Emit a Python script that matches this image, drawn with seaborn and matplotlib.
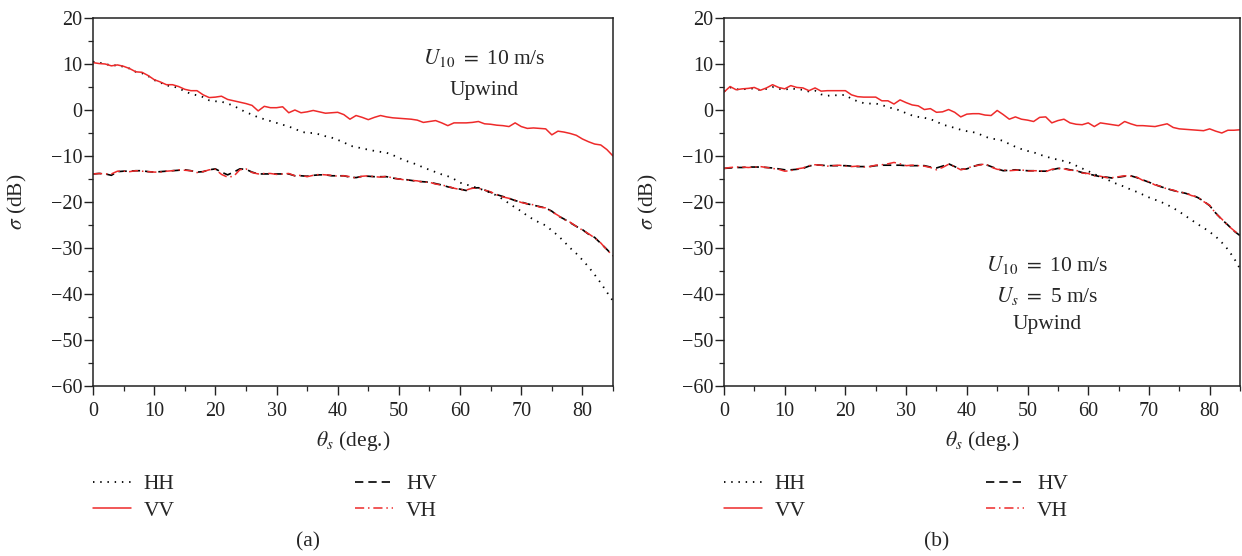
import numpy as np
import pandas as pd
import matplotlib
matplotlib.use("Agg")
import matplotlib.pyplot as plt
from matplotlib.ticker import MultipleLocator
import seaborn as sns

# ---------------- data ----------------
theta = list(range(0, 86))

a_vv = [10.3, 10.1, 10.0, 9.6, 9.8, 9.5, 9.0, 8.3, 8.2, 7.5,
        6.6, 6.1, 5.5, 5.5, 5.1, 4.5, 4.2, 4.2, 3.3, 2.7,
        2.8, 3.0, 2.3, 2.0, 1.7, 1.4, 1.0, -0.2, 0.8, 0.5,
        0.5, 0.7, -0.6, 0.0, -0.6, -0.4, -0.1, -0.4, -0.7, -0.6,
        -0.5, -1.0, -2.0, -1.2, -1.6, -2.1, -1.6, -1.2, -1.5, -1.7,
        -1.8, -1.9, -2.0, -2.2, -2.7, -2.5, -2.3, -2.8, -3.4, -2.8,
        -2.8, -2.8, -2.7, -2.5, -3.0, -3.1, -3.3, -3.4, -3.6, -2.8,
        -3.6, -4.0, -3.9, -4.0, -4.1, -5.4, -4.6, -4.8, -5.1, -5.5,
        -6.3, -6.9, -7.4, -7.6, -8.6, -10.0]
a_hh = [10.5, 10.3, 10.0, 9.7, 9.7, 9.4, 9.0, 8.3, 8.0, 7.4,
        6.5, 6.0, 5.3, 5.2, 4.7, 4.1, 3.5, 3.2, 2.8, 2.1,
        1.9, 1.8, 1.4, 0.9, 0.2, -0.5, -1.0, -1.6, -2.0, -2.4,
        -2.8, -3.2, -3.6, -4.1, -4.7, -5.0, -5.0, -5.3, -5.7, -6.0,
        -6.5, -7.0, -7.8, -8.0, -8.4, -8.6, -8.9, -9.1, -9.3, -9.8,
        -10.4, -11.0, -11.4, -11.9, -12.5, -13.0, -13.5, -14.0, -14.4, -15.0,
        -15.8, -16.2, -16.6, -17.0, -17.5, -18.0, -18.6, -19.4, -20.3, -21.2,
        -22.0, -23.0, -23.8, -24.5, -25.1, -26.2, -27.3, -28.6, -30.0, -31.2,
        -32.6, -34.1, -35.8, -37.6, -39.6, -41.5]
a_hv = [-13.9, -13.8, -13.9, -14.2, -13.4, -13.3, -13.3, -13.2, -13.2, -13.4,
        -13.5, -13.4, -13.3, -13.2, -13.1, -13.0, -13.2, -13.5, -13.4, -13.0,
        -12.8, -13.5, -14.1, -13.5, -12.8, -12.9, -13.5, -13.9, -13.9, -13.9,
        -13.9, -13.9, -13.9, -14.3, -14.3, -14.4, -14.2, -14.1, -14.1, -14.3,
        -14.3, -14.3, -14.6, -14.7, -14.4, -14.4, -14.5, -14.5, -14.5, -14.8,
        -15.0, -15.1, -15.3, -15.5, -15.6, -15.7, -16.0, -16.3, -16.7, -17.0,
        -17.2, -17.5, -17.0, -16.9, -17.4, -17.9, -18.4, -18.8, -19.2, -19.7,
        -20.0, -20.4, -20.7, -21.0, -21.3, -22.0, -23.0, -23.7, -24.5, -25.3,
        -26.0, -27.0, -27.7, -29.0, -30.3, -31.7]
a_vh = [-13.9, -13.8, -13.9, -13.9, -13.3, -13.3, -13.4, -13.2, -13.3, -13.4,
        -13.5, -13.5, -13.3, -13.2, -13.0, -13.1, -13.2, -13.6, -13.4, -13.0,
        -12.9, -14.0, -14.6, -14.4, -13.0, -12.8, -13.6, -13.9, -13.8, -13.8,
        -14.0, -13.9, -13.8, -14.3, -14.2, -14.5, -14.2, -14.0, -14.1, -14.2,
        -14.4, -14.3, -14.5, -14.8, -14.4, -14.3, -14.5, -14.6, -14.4, -14.8,
        -15.0, -15.2, -15.3, -15.4, -15.7, -15.7, -16.1, -16.3, -16.6, -17.0,
        -17.3, -17.4, -17.0, -17.0, -17.4, -17.8, -18.4, -18.9, -19.2, -19.6,
        -20.1, -20.4, -20.6, -21.1, -21.3, -22.1, -22.9, -23.8, -24.4, -25.3,
        -26.1, -26.9, -27.8, -28.9, -30.4, -31.7]

b_vv = [3.9, 5.1, 4.4, 4.6, 4.7, 4.9, 4.3, 4.8, 5.5, 4.9,
        4.6, 5.3, 4.9, 4.8, 4.2, 4.8, 4.1, 4.2, 4.2, 4.2,
        4.2, 3.3, 2.9, 2.8, 2.8, 2.8, 2.0, 2.0, 1.3, 2.2,
        1.6, 1.1, 0.9, 0.1, 0.3, -0.5, -0.4, 0.1, -0.5, -1.5,
        -0.9, -0.8, -0.8, -1.1, -1.2, -0.1, -1.0, -2.0, -1.5, -2.0,
        -2.2, -2.5, -1.6, -1.5, -2.8, -2.3, -2.0, -2.8, -3.1, -3.2,
        -2.8, -3.6, -2.8, -3.0, -3.2, -3.4, -2.5, -3.0, -3.4, -3.4,
        -3.5, -3.6, -3.3, -3.0, -3.8, -4.1, -4.2, -4.3, -4.4, -4.5,
        -4.1, -4.6, -5.0, -4.4, -4.4, -4.3]
b_hh = [4.0, 4.9, 4.5, 4.5, 4.6, 4.7, 4.3, 4.6, 5.0, 4.6,
        4.4, 4.7, 4.5, 4.4, 4.0, 4.2, 3.4, 3.1, 3.2, 3.2,
        3.3, 2.4, 1.9, 1.5, 1.4, 1.4, 1.1, 0.6, 0.3, -0.1,
        -0.7, -1.2, -1.5, -1.7, -2.0, -2.5, -3.2, -3.5, -3.9, -4.3,
        -4.6, -4.8, -5.2, -5.8, -6.2, -6.4, -6.7, -7.4, -8.0, -8.5,
        -8.9, -9.2, -9.7, -10.1, -10.5, -10.8, -11.1, -11.5, -12.1, -12.7,
        -13.3, -13.9, -14.6, -15.0, -15.7, -16.2, -16.7, -17.3, -17.8, -18.4,
        -19.0, -19.5, -20.0, -20.6, -21.3, -22.1, -23.0, -23.9, -24.8, -25.6,
        -26.5, -27.5, -28.8, -30.3, -32.2, -34.5]
b_hv = [-12.7, -12.6, -12.5, -12.5, -12.4, -12.4, -12.4, -12.5, -12.6, -12.8,
        -13.0, -13.0, -12.9, -12.7, -12.2, -11.9, -12.0, -12.1, -12.1, -12.1,
        -12.1, -12.2, -12.3, -12.3, -12.3, -12.1, -12.0, -12.0, -12.0, -12.0,
        -12.1, -12.1, -12.1, -12.1, -12.4, -12.6, -12.2, -11.7, -12.3, -12.9,
        -12.8, -12.3, -11.9, -11.8, -12.3, -12.8, -13.2, -13.1, -13.0, -13.1,
        -13.2, -13.2, -13.3, -13.3, -13.0, -12.7, -12.7, -13.0, -13.2, -13.6,
        -13.9, -14.2, -14.5, -14.6, -14.8, -14.6, -14.4, -14.3, -14.7, -15.2,
        -15.7, -16.2, -16.7, -17.1, -17.5, -17.8, -18.1, -18.5, -19.0, -19.8,
        -20.8, -22.4, -23.8, -25.0, -26.3, -27.3]
b_vh = [-12.7, -12.5, -12.4, -12.4, -12.5, -12.4, -12.3, -12.5, -12.7, -12.9,
        -13.3, -13.2, -12.8, -12.6, -12.1, -11.9, -12.0, -12.2, -12.1, -12.0,
        -12.2, -12.3, -12.2, -12.4, -12.3, -12.0, -11.9, -11.7, -11.4, -11.7,
        -12.1, -12.0, -12.1, -12.2, -12.5, -13.0, -12.5, -11.8, -12.3, -13.0,
        -12.7, -12.2, -12.0, -11.7, -12.4, -12.9, -13.0, -13.2, -13.1, -13.0,
        -13.3, -13.2, -13.2, -13.4, -12.9, -12.7, -12.8, -13.1, -13.1, -13.7,
        -13.8, -14.3, -14.4, -14.7, -14.7, -14.5, -14.3, -14.4, -14.6, -15.3,
        -15.6, -16.3, -16.6, -17.2, -17.4, -17.9, -18.0, -18.6, -18.9, -19.9,
        -20.7, -22.5, -23.7, -25.1, -26.2, -27.3]

series_labels = ["HH", "VV", "HV", "VH"]
panel_tags = ["(a)", "(b)"]

# ---------------- style ----------------
sns.set_style("ticks")
plt.rcParams["font.family"] = ["Liberation Serif", "DejaVu Serif"]
plt.rcParams["mathtext.fontset"] = "stix"
plt.rcParams["font.size"] = 13

RED = "#ee2a2a"
styles = {
    "HH": dict(color="black", linestyle=(0, (0.8, 3.2)), linewidth=1.3),
    "VV": dict(color=RED, linestyle="-", linewidth=1.1),
    "HV": dict(color="black", linestyle=(0, (5, 3)), linewidth=1.2),
    "VH": dict(color=RED, linestyle=(0, (6, 2.5, 1, 2.5)), linewidth=1.1),
}

fig = plt.figure(figsize=(12.42, 5.56), dpi=100)
W, H = 1242.0, 556.0
ax_a = fig.add_axes([93 / W, 1 - 386 / H, (613 - 93) / W, (386 - 18) / H])
ax_b = fig.add_axes([724 / W, 1 - 386 / H, (1240 - 724) / W, (386 - 18) / H])

panels = [
    (ax_a, {"HH": a_hh, "VV": a_vv, "HV": a_hv, "VH": a_vh}),
    (ax_b, {"HH": b_hh, "VV": b_vv, "HV": b_hv, "VH": b_vh}),
]

for ax, data in panels:
    for name in ["HV", "VH", "HH", "VV"]:
        df = pd.DataFrame({"theta": theta, "sigma": data[name]})
        sns.lineplot(data=df, x="theta", y="sigma", ax=ax, label=name,
                     sort=False, estimator=None, **styles[name])
    ax.set_xlim(0, 85)
    ax.set_ylim(-60, 20)
    ax.xaxis.set_major_locator(MultipleLocator(10))
    ax.xaxis.set_minor_locator(MultipleLocator(5))
    ax.yaxis.set_major_locator(MultipleLocator(10))
    ax.yaxis.set_minor_locator(MultipleLocator(5))
    ax.tick_params(which="major", direction="out", length=6.5, width=1.0,
                   labelsize=14.5, colors="#222222")
    ax.tick_params(axis="y", which="major", pad=1)
    ax.tick_params(axis="x", which="major", pad=5)
    ax.tick_params(which="minor", direction="out", length=3.5, width=0.9)
    ax.tick_params(top=False, right=False, which="both")
    for s in ax.spines.values():
        s.set_visible(True)
        s.set_linewidth(1.1)
        s.set_color("#222222")
    ax.set_xlabel(r"$\theta_s$ (deg.)", fontsize=15.5)
    ax.set_ylabel(r"$\sigma$ (dB)", fontsize=15.5)
    w_px = ax.get_position().width * W
    ax.yaxis.set_label_coords(-64 / w_px, 0.5)
    ax.xaxis.set_label_coords(0.5, -43 / 368)
    leg = ax.get_legend()
    if leg is not None:
        leg.remove()

# annotations
ann = dict(ha="center", va="center", fontsize=15.5)
ax_a.text(64, 11.4, r"$U_{10}$ $=$ 10 m/s", **ann)
ax_a.text(64, 4.3, "Upwind", **ann)
ax_b.text(53.3, -33.8, r"$U_{10}$ $=$ 10 m/s", **ann)
ax_b.text(53.3, -40.5, r"$U_s$ $=$ 5 m/s", **ann)
ax_b.text(53.3, -46.6, "Upwind", **ann)

# legends below each panel
for i, (ax, left_px, tag_px) in enumerate([(ax_a, 93, 308), (ax_b, 724, 937)]):
    handles, labels = ax.get_legend_handles_labels()
    hmap = dict(zip(labels, handles))
    fig.legend([hmap[k] for k in series_labels], series_labels, ncol=2, frameon=False,
               loc="upper left", bbox_to_anchor=(left_px / W, 1 - 474 / H),
               bbox_transform=fig.transFigure, fontsize=15.5,
               handlelength=1.75, handletextpad=0.6, columnspacing=8.4,
               labelspacing=0.3, borderpad=0, borderaxespad=0)
    fig.text(tag_px / W, 1 - 542 / H, panel_tags[i], ha="center", va="center",
             fontsize=15.5)

fig.savefig("out.png", dpi=100)
